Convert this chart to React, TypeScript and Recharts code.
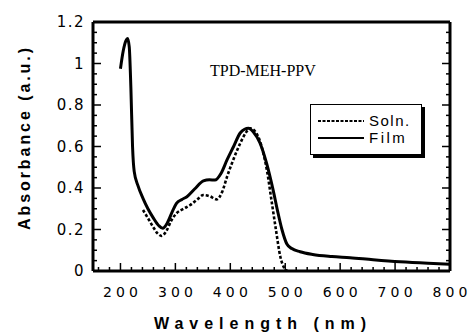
import React from "react";
import { LineChart, Line, XAxis, YAxis, Legend } from "recharts";

if (typeof document !== "undefined") {
  document.body.style.margin = "0";
  document.body.style.overflow = "hidden";
}

const filmWavelength = [200, 205, 210, 213, 216, 219, 222, 225, 232, 241, 250, 260, 270, 277, 285, 295, 302, 312, 321, 335, 351, 362, 372, 383, 394, 406, 418, 426, 433, 442, 454, 466, 478, 486, 494, 503, 512, 527, 550, 585, 618, 660, 709, 760, 800];
const filmAbs = [0.975, 1.06, 1.11, 1.12, 1.08, 0.88, 0.6, 0.48, 0.41, 0.35, 0.3, 0.255, 0.218, 0.206, 0.23, 0.29, 0.326, 0.345, 0.358, 0.395, 0.434, 0.44, 0.438, 0.47, 0.535, 0.6, 0.665, 0.683, 0.688, 0.67, 0.617, 0.52, 0.39, 0.29, 0.2, 0.13, 0.108, 0.093, 0.08, 0.07, 0.064, 0.054, 0.044, 0.037, 0.033];

const solnWavelength = [241, 250, 260, 268, 275, 283, 293, 302, 315, 327, 340, 351, 363, 375, 385, 394, 406, 418, 428, 436, 446, 457, 467, 475, 483, 491, 498, 504];
const solnAbs = [0.294, 0.255, 0.21, 0.18, 0.169, 0.19, 0.245, 0.278, 0.3, 0.318, 0.345, 0.366, 0.36, 0.345, 0.38, 0.454, 0.54, 0.615, 0.665, 0.688, 0.67, 0.6, 0.48, 0.34, 0.2, 0.07, 0.015, 0];

const xMajorTicks = [200, 300, 400, 500, 600, 700, 800];
const xMinorTicks = [160, 180, 220, 240, 260, 280, 320, 340, 360, 380, 420, 440, 460, 480, 520, 540, 560, 580, 620, 640, 660, 680, 720, 740, 760, 780];
const yMajorTicks = [0, 0.2, 0.4, 0.6, 0.8, 1, 1.2];
const yMinorTicks = [0.05, 0.1, 0.15, 0.25, 0.3, 0.35, 0.45, 0.5, 0.55, 0.65, 0.7, 0.75, 0.85, 0.9, 0.95, 1.05, 1.1, 1.15];

const seriesNames = ["Soln.", "Film"];
const chartTitle = "TPD-MEH-PPV";
const xTitle = "Wavelength  (nm)";
const yTitle = "Absorbance  (a.u.)";

const filmData = filmWavelength.map((w, i) => ({ w, film: filmAbs[i] }));
const solnData = solnWavelength.map((w, i) => ({ w, soln: solnAbs[i] }));

const xAllTicks = [...xMajorTicks, ...xMinorTicks].sort((a, b) => a - b);
const yAllTicks = [...yMajorTicks, ...yMinorTicks].sort((a, b) => a - b);

const isMajorX = (v: number) => xMajorTicks.includes(v);
const isMajorY = (v: number) => yMajorTicks.some((t) => Math.abs(t - v) < 1e-6);

const TICK_FONT = "'DejaVu Sans', Arial, sans-serif";
const MAJ = 8;
const MIN = 4;

const BottomTick = (props: any) => {
  const { x, y, payload } = props;
  const v = payload.value;
  const major = isMajorX(v);
  return (
    <g>
      <line x1={x} x2={x} y1={y} y2={y - (major ? MAJ : MIN)} stroke="#000" strokeWidth={1.5} />
      {major && (
        <text
          x={x}
          y={y + 26}
          textAnchor="middle"
          fontFamily={TICK_FONT}
          fontSize={14}
          textLength={35}
          lengthAdjust="spacing"
          fill="#000"
        >
          {v}
        </text>
      )}
    </g>
  );
};

const TopTick = (props: any) => {
  const { x, y, payload } = props;
  const major = isMajorX(payload.value);
  return <line x1={x} x2={x} y1={y} y2={y + (major ? MAJ : MIN)} stroke="#000" strokeWidth={1.5} />;
};

const LeftTick = (props: any) => {
  const { x, y, payload } = props;
  const v = payload.value;
  const major = isMajorY(v);
  return (
    <g>
      <line x1={x} x2={x + (major ? MAJ : MIN)} y1={y} y2={y} stroke="#000" strokeWidth={1.5} />
      {major && (
        <text x={x - 8} y={y + 5} textAnchor="end" fontFamily={TICK_FONT} fontSize={15} letterSpacing={1.5} fill="#000">
          {String(Math.round(v * 10) / 10)}
        </text>
      )}
    </g>
  );
};

const RightTick = (props: any) => {
  const { x, y, payload } = props;
  const major = isMajorY(payload.value);
  return <line x1={x} x2={x - (major ? MAJ : MIN)} y1={y} y2={y} stroke="#000" strokeWidth={1.5} />;
};

const LegendBox = () => (
  <div
    style={{
      width: 112,
      height: 51,
      border: "1.5px solid #000",
      boxShadow: "3px 3px 0 #000",
      background: "#fff",
      boxSizing: "border-box",
      padding: "7px 0 0 7px",
      fontFamily: "Arial, 'Liberation Sans', sans-serif",
      fontSize: 15,
      lineHeight: "17px",
      letterSpacing: 1.5,
      textAlign: "left",
    }}
  >
    <div style={{ display: "flex", alignItems: "center" }}>
      <svg width={46} height={10}>
        <line x1={0} x2={46} y1={5} y2={5} stroke="#000" strokeWidth={2} strokeDasharray="3 1.5" />
      </svg>
      <span style={{ marginLeft: 5 }}>{seriesNames[0]}</span>
    </div>
    <div style={{ display: "flex", alignItems: "center" }}>
      <svg width={46} height={10}>
        <line x1={0} x2={46} y1={5} y2={5} stroke="#000" strokeWidth={2} />
      </svg>
      <span style={{ marginLeft: 5, letterSpacing: 2.5 }}>{seriesNames[1]}</span>
    </div>
  </div>
);

export default function App() {
  return (
    <div style={{ width: 471, height: 335 }}>
      <LineChart width={471} height={335} margin={{ top: 21, right: 20, bottom: 0, left: 0 }}>
        <XAxis
          dataKey="w"
          type="number"
          domain={[150, 800]}
          ticks={xAllTicks}
          interval={0}
          allowDataOverflow
          tickSize={0}
          tickMargin={0}
          tickLine={false}
          tick={<BottomTick />}
          axisLine={{ stroke: "#000", strokeWidth: 3 }}
          height={64}
        />
        <XAxis
          xAxisId="top"
          orientation="top"
          type="number"
          domain={[150, 800]}
          ticks={xAllTicks}
          interval={0}
          allowDataOverflow
          tickSize={0}
          tickMargin={0}
          tickLine={false}
          tick={<TopTick />}
          axisLine={{ stroke: "#000", strokeWidth: 3 }}
          height={1}
        />
        <YAxis
          type="number"
          domain={[0, 1.2]}
          ticks={yAllTicks}
          interval={0}
          allowDataOverflow
          tickSize={0}
          tickMargin={0}
          tickLine={false}
          tick={<LeftTick />}
          axisLine={{ stroke: "#000", strokeWidth: 3 }}
          width={93}
        />
        <YAxis
          yAxisId="right"
          orientation="right"
          type="number"
          domain={[0, 1.2]}
          ticks={yAllTicks}
          interval={0}
          allowDataOverflow
          tickSize={0}
          tickMargin={0}
          tickLine={false}
          tick={<RightTick />}
          axisLine={{ stroke: "#000", strokeWidth: 3 }}
          width={1}
        />
        <Line
          data={solnData}
          dataKey="soln"
          name={seriesNames[0]}
          type="monotone"
          stroke="#000"
          strokeWidth={2.6}
          strokeDasharray="3 2"
          dot={false}
          isAnimationActive={false}
        />
        <Line
          data={filmData}
          dataKey="film"
          name={seriesNames[1]}
          type="monotone"
          stroke="#000"
          strokeWidth={3}
          dot={false}
          isAnimationActive={false}
        />
        <Legend
          layout="vertical"
          verticalAlign="middle"
          align="center"
          content={<LegendBox />}
          wrapperStyle={{ position: "absolute", left: 310, top: 104, width: 116, height: 55 }}
        />
        <text x={210} y={76} textAnchor="start" fontFamily="'Liberation Serif', 'Times New Roman', serif" fontSize={16} fill="#000">
          {chartTitle}
        </text>
        <text
          x={260}
          y={329}
          textAnchor="middle"
          fontFamily="Arial, 'Liberation Sans', sans-serif"
          fontWeight="bold"
          fontSize={16}
          textLength={212}
          lengthAdjust="spacing"
          fill="#000"
        >
          {xTitle}
        </text>
        <text
          x={30}
          y={139}
          textAnchor="middle"
          transform="rotate(-90 30 139)"
          fontFamily="Arial, 'Liberation Sans', sans-serif"
          fontWeight="bold"
          fontSize={16}
          textLength={182}
          lengthAdjust="spacing"
          fill="#000"
        >
          {yTitle}
        </text>
      </LineChart>
    </div>
  );
}
